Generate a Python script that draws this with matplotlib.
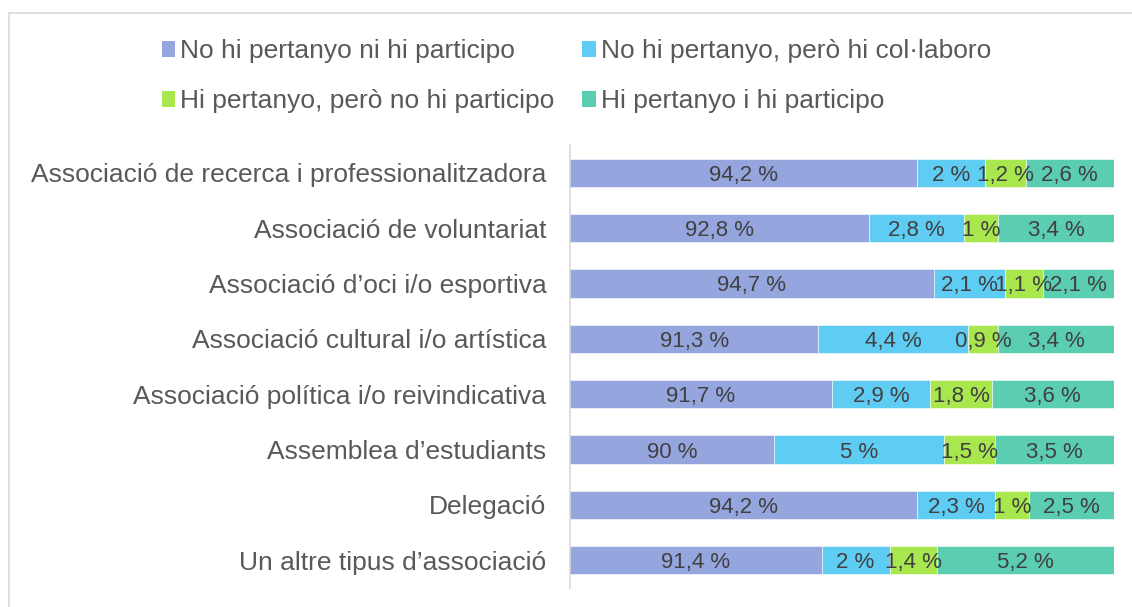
import matplotlib.pyplot as plt
import numpy as np
from matplotlib.patches import Patch, Rectangle

plt.rcParams['font.family'] = ['Liberation Sans', 'DejaVu Sans']

categories = [
    "Associació de recerca i professionalitzadora",
    "Associació de voluntariat",
    "Associació d\u2019oci i/o esportiva",
    "Associació cultural i/o artística",
    "Associació política i/o reivindicativa",
    "Assemblea d\u2019estudiants",
    "Delegació",
    "Un altre tipus d\u2019associació",
]

series_names = [
    "No hi pertanyo ni hi participo",
    "No hi pertanyo, però hi col·laboro",
    "Hi pertanyo, però no hi participo",
    "Hi pertanyo i hi participo",
]

no_no = [94.2, 92.8, 94.7, 91.3, 91.7, 90.0, 94.2, 91.4]
no_collab = [2.0, 2.8, 2.1, 4.4, 2.9, 5.0, 2.3, 2.0]
yes_no = [1.2, 1.0, 1.1, 0.9, 1.8, 1.5, 1.0, 1.4]
yes_yes = [2.6, 3.4, 2.1, 3.4, 3.6, 3.5, 2.5, 5.2]

colors = ["#95A5DE", "#5ECCF3", "#A8E84E", "#5BCDB0"]

W, H = 1132, 607
fig = plt.figure(figsize=(W / 100, H / 100), dpi=100)
ax = fig.add_axes([570 / W, 1 - 588 / H, (1114 - 570) / W, (588 - 145) / H])

# chart frame
fig.patches.append(Rectangle((8.5 / W, -0.1), 1.2, 1 - 12.5 / H + 0.1,
                             transform=fig.transFigure, fill=False,
                             edgecolor="#D9D9D9", linewidth=1.2))

y = np.arange(len(categories))
left = np.zeros(len(categories))
for vals, col in zip([no_no, no_collab, yes_no, yes_yes], colors):
    vals = np.array(vals)
    ax.barh(y, vals, left=left, height=0.51, color=col,
            edgecolor="white", linewidth=0.4)
    for yi, l, v in zip(y, left, vals):
        xc = max(l, 84) + (l + v - max(l, 84)) / 2
        ax.text(xc, yi, f"{v:g} %".replace(".", ","), ha="center",
                va="center_baseline", fontsize=16, color="#404040")
    left = left + vals

ax.set_xlim(84, 100)
ax.set_ylim(len(categories) - 0.5, -0.5)
ax.set_yticks(y)
ax.set_yticklabels(categories, fontsize=19, color="#595959")
ax.tick_params(axis="y", length=0, pad=17)
ax.set_xticks([])
for s in ["top", "right", "bottom"]:
    ax.spines[s].set_visible(False)
ax.spines["left"].set_color("#D9D9D9")
ax.spines["left"].set_linewidth(1.2)

# legend filled row by row
order = [0, 2, 1, 3]
handles = [Patch(facecolor=colors[i], edgecolor="none") for i in order]
labels = [series_names[i] for i in order]
fig.legend(handles, labels, loc="upper left",
           bbox_to_anchor=(162 / W, 1 - 39 / H), ncol=2, frameon=False,
           borderpad=0, borderaxespad=0,
           fontsize=19, handlelength=0.5, handleheight=0.55,
           handletextpad=0.2, columnspacing=1.05, labelspacing=1.0,
           labelcolor="#595959")

fig.savefig("out.png", dpi=100)
